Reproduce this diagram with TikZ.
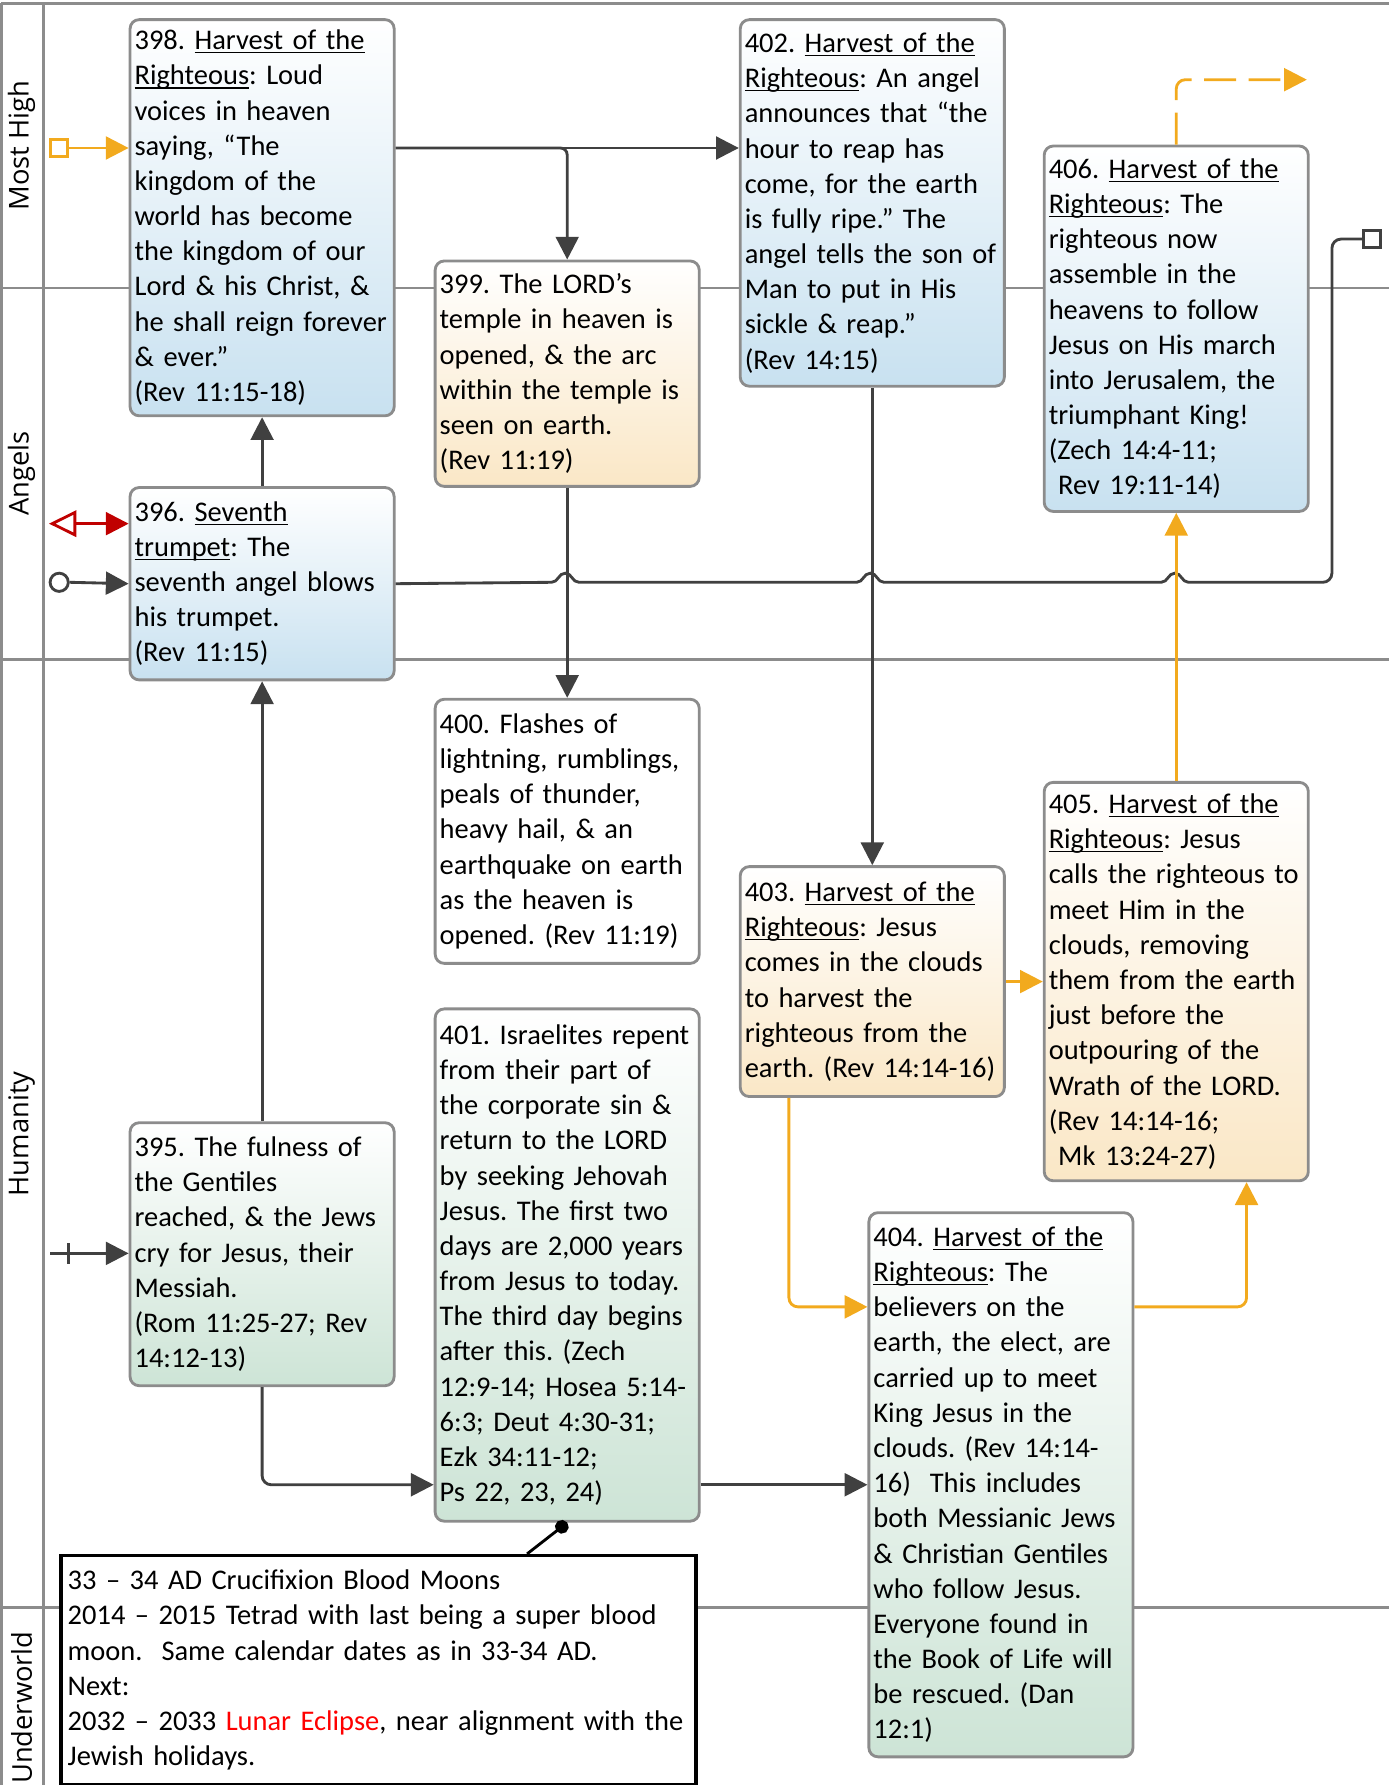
\documentclass[tikz,border=0pt]{standalone}
\usepackage{fontspec}
\setmainfont{Carlito}
\newfontfamily\lanefont{Open Sans}
\usetikzlibrary{arrows.meta,calc}
\definecolor{boxgray}{RGB}{140,140,140}
\definecolor{linkgray}{RGB}{64,64,64}
\definecolor{harvest}{RGB}{242,170,30}
\definecolor{alarm}{RGB}{192,0,0}
\definecolor{skyfill}{RGB}{200,225,240}
\definecolor{sandfill}{RGB}{250,231,198}
\definecolor{mintfill}{RGB}{205,228,214}
\newcommand{\boxfont}{\fontsize{25}{30.9}\selectfont\frenchspacing\hyphenpenalty=10000\relax}
\newsavebox{\ulnbox}
\newcommand{\uln}[1]{\leavevmode\sbox{\ulnbox}{#1}\rlap{\rule[-3.2pt]{\wd\ulnbox}{1.1pt}}\usebox{\ulnbox}}
\newcommand{\HR}{\uln{Harvest of the}\\\uln{Righteous}}

\begin{document}
\begin{tikzpicture}[x=1pt, y=-1pt,
    font=\boxfont,
    lane/.style={draw=boxgray, line width=2.5pt},
    lanename/.style={font=\lanefont\fontsize{24}{28}\selectfont, rotate=90},
    evt/.style={draw=boxgray, line width=2.5pt, rounded corners=8pt, anchor=north west,
      align=left, text width=224pt, inner xsep=4pt, inner ysep=0pt},
    sky/.style={evt, top color=white, bottom color=skyfill},
    sand/.style={evt, top color=white, bottom color=sandfill},
    mint/.style={evt, top color=white, bottom color=mintfill},
    link/.style={draw=linkgray, line width=2.5pt},
    arr/.style={link, -{Triangle[length=20pt,width=20pt]}},
    oarr/.style={arr, draw=harvest},
    hop/.style={insert path={-- ({#1-12},511.5) .. controls ({#1-6},511.5) and ({#1-6},503.5) .. (#1,503.5) .. controls ({#1+6},503.5) and ({#1+6},511.5) .. ({#1+12},511.5)}}
  ]
  \useasboundingbox (0,0) rectangle (1220,1568);

  % swimlanes
  \draw[lane] (1,3) -- (1220,3);
  \draw[lane] (1,3) -- (1,1568);
  \draw[lane] (38,3) -- (38,1568);
  \draw[lane] (1,253) -- (1220,253);
  \draw[lane] (1,579) -- (1220,579);
  \draw[lane] (1,1412) -- (1220,1412);
  \node[lanename] (lmost) at (19,128) {Most High};
  \node[lanename] (langels) at (19,416) {Angels};
  \node[lanename] (lhuman) at (19,996) {Humanity};
  \node[lanename] (lunder) at (19,1500) {Underworld};

  % events
  \node[sky, minimum height=348pt] (n398) at (113,16) {398. \HR: Loud\\
    voices in heaven\\ saying, “The\\ kingdom of the\\ world has become\\
    the kingdom of our\\ Lord \& his Christ, \&\\ he shall reign forever\\
    \& ever.”\\ (Rev 11:15-18)};
  \node[sky, minimum height=169pt] (n396) at (113,427) {396. \uln{Seventh}\\
    \uln{trumpet}: The\\ seventh angel blows\\ his trumpet.\\ (Rev 11:15)};
  \node[mint, minimum height=231pt] (n395) at (113,985) {395. The fulness of\\
    the Gentiles\\ reached, \& the Jews\\ cry for Jesus, their\\ Messiah.\\
    (Rom 11:25-27; Rev\\ 14:12-13)};
  \node[sand, minimum height=198pt] (n399) at (381,228) {399. The LORD’s\\
    temple in heaven is\\ opened, \& the arc\\ within the temple is\\
    seen on earth.\\ (Rev 11:19)};
  \node[evt, fill=white, minimum height=232pt] (n400) at (381,613) {400. Flashes of\\
    lightning, rumblings,\\ peals of thunder,\\ heavy hail, \& an\\
    earthquake on earth\\ as the heaven is\\ opened. (Rev 11:19)};
  \node[mint, minimum height=450pt] (n401) at (381,885) {401. Israelites repent\\
    from their part of\\ the corporate sin \&\\ return to the LORD\\
    by seeking Jehovah\\ Jesus. The first two\\ days are 2,000 years\\
    from Jesus to today.\\ The third day begins\\ after this. (Zech\\
    12:9-14; Hosea 5:14-\\ 6:3; Deut 4:30-31;\\ Ezk 34:11-12;\\ Ps 22, 23, 24)};
  \node[sky, minimum height=322pt] (n402) at (649,16) {402. \HR: An angel\\
    announces that “the\\ hour to reap has\\ come, for the earth\\
    is fully ripe.” The\\ angel tells the son of\\ Man to put in His\\
    sickle \& reap.”\\ (Rev 14:15)};
  \node[sand, minimum height=202pt] (n403) at (649,760) {403. \HR: Jesus\\
    comes in the clouds\\ to harvest the\\ righteous from the\\
    earth. (Rev 14:14-16)};
  \node[mint, minimum height=478pt] (n404) at (762,1064) {404. \HR: The\\
    believers on the\\ earth, the elect, are\\ carried up to meet\\
    King Jesus in the\\ clouds. (Rev 14:14-\\ 16)\ \ This includes\\
    both Messianic Jews\\ \& Christian Gentiles\\ who follow Jesus.\\
    Everyone found in\\ the Book of Life will\\ be rescued. (Dan\\ 12:1)};
  \node[sand, minimum height=350pt] (n405) at (916,686) {405. \HR: Jesus\\
    calls the righteous to\\ meet Him in the\\ clouds, removing\\
    them from the earth\\ just before the\\ outpouring of the\\
    Wrath of the LORD.\\ (Rev 14:14-16;\\ \ Mk 13:24-27)};
  \node[sky, minimum height=321pt] (n406) at (916,127) {406. \HR: The\\
    righteous now\\ assemble in the\\ heavens to follow\\
    Jesus on His march\\ into Jerusalem, the\\ triumphant King!\\
    (Zech 14:4-11;\\ \ Rev 19:11-14)};
  \node[draw=black, line width=3pt, fill=white, anchor=north west, align=left,
    text width=546pt, inner xsep=6pt, inner ysep=0pt, minimum height=201pt]
    (nnote) at (52,1365) {33 – 34 AD Crucifixion Blood Moons\\
    2014 – 2015 Tetrad with last being a super blood\\
    moon.\ \ Same calendar dates as in 33-34 AD.\\ Next:\\
    2032 – 2033 \textcolor{red}{Lunar Eclipse}, near alignment with the\\
    Jewish holidays.};

  % start and end markers
  \node[draw=harvest, line width=2.5pt, fill=white, minimum size=15pt, inner sep=0pt] (sq1) at (52,130) {};
  \node[draw=linkgray, line width=2.5pt, fill=white, circle, minimum size=16pt, inner sep=0pt] (c1) at (52,511.5) {};
  \node[draw=linkgray, line width=2.5pt, fill=white, minimum size=15pt, inner sep=0pt] (sq2) at (1205,210) {};
  \coordinate (r1) at (43,460);
  \coordinate (b1) at (44,1101);
  \coordinate (exit) at (1148,70);

  % flows
  \draw[oarr] (sq1.east) -- (n398.west |- sq1);
  \draw[link, draw=alarm, {Triangle[open,length=24pt,width=23pt]}-{Triangle[length=20pt,width=20pt]}] (r1) -- (n396.west |- r1);
  \draw[arr] (c1.east) -- (n396.west);
  \draw[arr] (b1) -- (n395.west |- b1);
  \draw[link] (60,1092) -- (60,1110);
  \draw[arr] (n398.east |- sq1) -- (n402.west |- sq1);
  \draw[arr, rounded corners=6pt] (n398.east |- sq1) -| (n399.north);
  \draw[arr] (n396.north) -- (n398.south);
  \draw[arr] (n395.north) -- (n396.south);
  \draw[arr] (n399.south) -- (n400.north);
  \draw[arr] (n402.south) -- (n403.north);
  \draw[link] (n396.east) [hop=496.5] [hop=764.5] [hop=1032]
    [rounded corners=8pt] -- (1170,511.5) -- (1170,210) -- (sq2.west);
  \draw[arr, rounded corners=8pt] (n395.south) |- (n401.west |- n404.west);
  \draw[arr] (n401.east |- n404.west) -- (n404.west);
  \draw[oarr, rounded corners=8pt] (n403.south -| 693,0) |- (n404.west |- 0,1148);
  \draw[oarr] (n403.east) -- (n405.west);
  \draw[oarr, rounded corners=8pt] (n404.east |- 0,1148) -| (n405.south -| 1095,0);
  \draw[oarr] (n405.north) -- (n406.south);
  \draw[oarr, dash pattern=on 28pt off 11pt, rounded corners=8pt] (n406.north) |- (exit);
  \draw[line width=2.5pt, -{Circle[length=12pt]}] ($(nnote.north west)+(411,0)$) -- (n401.south);
\end{tikzpicture}
\end{document}
